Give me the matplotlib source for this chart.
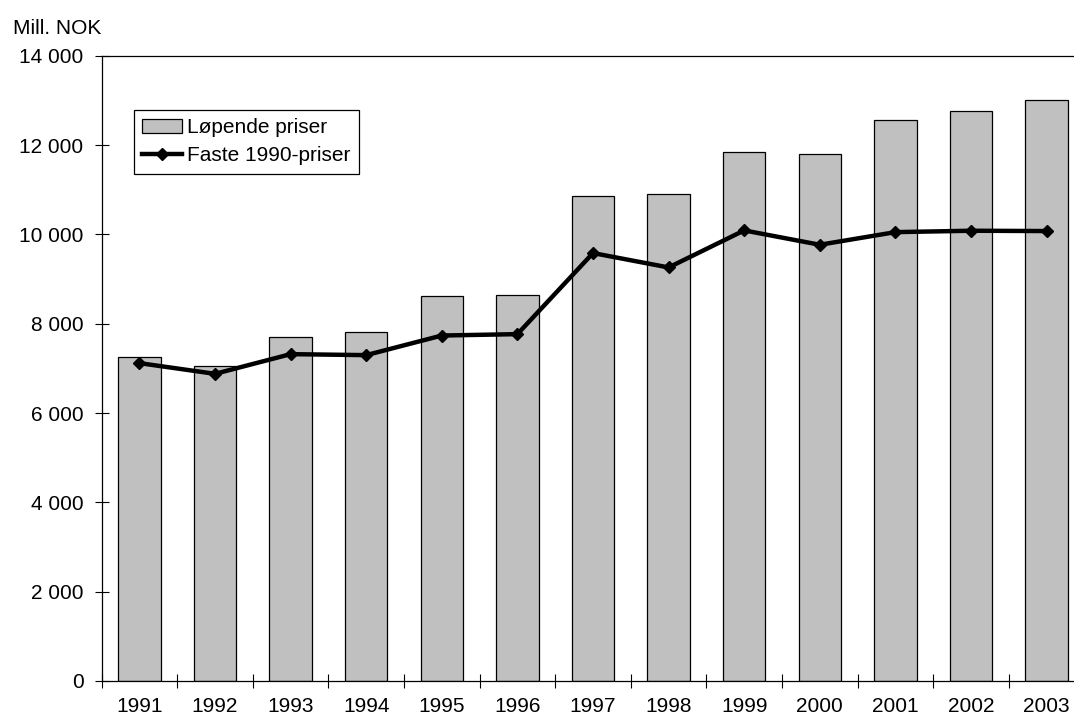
import numpy as np
import matplotlib
matplotlib.use("Agg")
import matplotlib.pyplot as plt
from matplotlib.ticker import FuncFormatter, FixedLocator

years = ["1991", "1992", "1993", "1994", "1995", "1996", "1997",
         "1998", "1999", "2000", "2001", "2002", "2003"]
lopende = [7265, 7063, 7699, 7825, 8631, 8647, 10858,
           10903, 11843, 11790, 12560, 12753, 13015]
faste_1990 = [7117, 6877, 7318, 7296, 7735, 7766, 9581,
              9259, 10088, 9767, 10050, 10081, 10074]

plt.rcParams['font.family'] = ['Liberation Sans', 'DejaVu Sans']
fs = 15
plt.rcParams['font.size'] = fs

fig = plt.figure(figsize=(10.74, 7.2), dpi=100)
# plot area runs past the right edge of the picture, as in the original
ax = fig.add_axes([101.6 / 1074, 1 - 681 / 720, 982.8 / 1074, 625.3 / 720])

x = np.arange(len(years))
bars = ax.bar(x, lopende, width=0.56, color='#c0c0c0', edgecolor='black',
              linewidth=0.9, label='Løpende priser', zorder=2)
line, = ax.plot(x, faste_1990, color='black', linewidth=3.2, marker='D',
                markersize=6.5, markeredgewidth=1, label='Faste 1990-priser', zorder=3)

ax.set_xlim(-0.5, len(years) - 0.5)
ax.set_ylim(0, 14000)

ax.set_yticks(np.arange(0, 14001, 2000))
ax.yaxis.set_major_formatter(FuncFormatter(lambda v, p: f"{int(v):,}".replace(",", " ")))
ax.tick_params(axis='y', direction='inout', length=10, width=0.8, pad=8)

ax.set_xticks(x)
ax.set_xticklabels(years)
ax.tick_params(axis='x', which='major', length=0, pad=11.5)
ax.xaxis.set_minor_locator(FixedLocator(np.arange(-0.5, len(years), 1)))
ax.tick_params(axis='x', which='minor', direction='inout', length=10, width=0.8)

ax.spines['right'].set_visible(False)
for s in ['left', 'bottom', 'top']:
    ax.spines[s].set_linewidth(0.9)

fig.text(13 / 1074, 1 - 28 / 720, "Mill. NOK", ha='left', va='center', fontsize=fs)

leg = ax.legend([bars, line], ['Løpende priser', 'Faste 1990-priser'],
                loc='upper left', bbox_to_anchor=(0.033, 0.913), borderaxespad=0,
                fancybox=False, edgecolor='black', framealpha=1,
                handlelength=1.9, handletextpad=0.25, borderpad=0.4,
                labelspacing=0.42, fontsize=fs)
leg.get_frame().set_linewidth(0.9)

fig.savefig("out.png", dpi=100)
